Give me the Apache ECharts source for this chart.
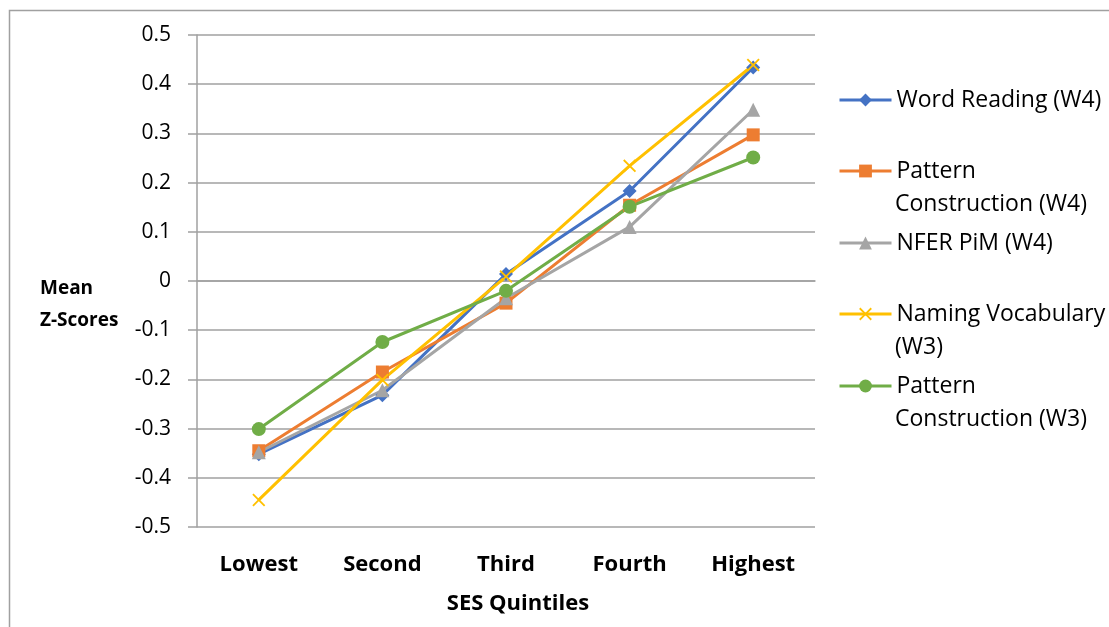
<!DOCTYPE html>
<html>
<head>
<meta charset="utf-8">
<script src="https://cdn.jsdelivr.net/npm/echarts@6/dist/echarts.min.js"></script>
<style>
  html, body { margin: 0; padding: 0; background: #fff; }
  #chart { width: 1109px; height: 627px; }
</style>
</head>
<body>
<div id="chart"></div>
<script>
// SES quintile categories
const quintiles = ['Lowest', 'Second', 'Third', 'Fourth', 'Highest'];

// Mean z-scores per quintile
const wordReadingW4 = [-0.352, -0.232, 0.014, 0.183, 0.434];
const patternConstructionW4 = [-0.345, -0.185, -0.045, 0.154, 0.297];
const nferPimW4 = [-0.348, -0.222, -0.035, 0.110, 0.348];
const namingVocabularyW3 = [-0.445, -0.201, 0.009, 0.234, 0.439];
const patternConstructionW3 = [-0.301, -0.124, -0.020, 0.151, 0.251];

// Y axis tick labels, top to bottom
const yTickLabels = ['0.5', '0.4', '0.3', '0.2', '0.1', '0', '-0.1', '-0.2', '-0.3', '-0.4', '-0.5'];

const FONT = 'Open Sans';
const crossPath = 'path://M0,1 L1,0 L5,4 L9,0 L10,1 L6,5 L10,9 L9,10 L5,6 L1,10 L0,9 L4,5 Z';

// legend text is split into lines; the first line sits beside the key
const seriesDefs = [
  { name: 'Word Reading (W4)', lines: ['Word Reading (W4)'], data: wordReadingW4, color: '#4472C4', symbol: 'diamond', size: 14 },
  { name: 'Pattern Construction (W4)', lines: ['Pattern', 'Construction (W4)'], data: patternConstructionW4, color: '#ED7D31', symbol: 'rect', size: 13 },
  { name: 'NFER PiM (W4)', lines: ['NFER PiM (W4)'], data: nferPimW4, color: '#A5A5A5', symbol: 'triangle', size: 14 },
  { name: 'Naming Vocabulary (W3)', lines: ['Naming Vocabulary', '(W3)'], data: namingVocabularyW3, color: '#FFC000', symbol: crossPath, size: 13 },
  { name: 'Pattern Construction (W3)', lines: ['Pattern', 'Construction (W3)'], data: patternConstructionW3, color: '#70AD47', symbol: 'circle', size: 14 }
];

// first-line centre of each legend entry
const legendCentres = [100, 171, 243, 314, 386];
const LEGEND_FONT = 23;
const LEGEND_LINE = 33;

function tickLabel(v) {
  const idx = Math.round((0.5 - v) * 10);
  return yTickLabels[idx] !== undefined ? yTickLabels[idx] : '';
}

const legends = seriesDefs.map((s, i) => ({
  data: [s.name],
  left: 838,
  top: legendCentres[i] - LEGEND_LINE / 2,
  padding: 0,
  itemWidth: 52,
  itemHeight: 16,
  selectedMode: false,
  formatter: () => s.lines[0],
  lineStyle: { width: 3 },
  textStyle: { fontFamily: FONT, fontSize: LEGEND_FONT, color: '#000', lineHeight: LEGEND_LINE }
}));

// continuation lines of the two-line legend entries
const legendExtra = [];
seriesDefs.forEach((s, i) => {
  s.lines.slice(1).forEach((ln, j) => {
    legendExtra.push({
      type: 'text',
      x: 895,
      y: legendCentres[i] + LEGEND_LINE * (j + 1),
      style: {
        text: ln,
        fontFamily: FONT,
        fontSize: LEGEND_FONT,
        fill: '#000',
        verticalAlign: 'middle',
        align: 'left'
      },
      silent: true
    });
  });
});

const chart = echarts.init(document.getElementById('chart'), null, { renderer: 'canvas' });
chart.setOption({
  animation: false,
  backgroundColor: '#fff',
  grid: { left: 197, right: 294, top: 35, bottom: 100, containLabel: false },
  legend: legends,
  graphic: [
    {
      type: 'rect',
      shape: { x: 9.5, y: 10.5, width: 1120, height: 640 },
      style: { fill: 'none', stroke: '#a0a0a0', lineWidth: 1.5 },
      silent: true
    },
    {
      type: 'text',
      x: 40,
      y: 305,
      style: {
        text: 'Mean\nZ-Scores',
        fontFamily: FONT,
        fontSize: 19,
        fontWeight: 'bold',
        lineHeight: 32,
        align: 'left',
        verticalAlign: 'middle',
        fill: '#000'
      },
      silent: true
    },
    {
      type: 'text',
      x: 518,
      y: 604,
      style: {
        text: 'SES Quintiles',
        fontFamily: FONT,
        fontSize: 22,
        fontWeight: 'bold',
        align: 'center',
        verticalAlign: 'middle',
        fill: '#000'
      },
      silent: true
    }
  ].concat(legendExtra),
  xAxis: {
    type: 'category',
    data: quintiles,
    boundaryGap: true,
    axisLine: { show: true, lineStyle: { color: '#a0a0a0', width: 1.5 } },
    axisTick: { show: false },
    axisLabel: {
      margin: 27,
      fontFamily: FONT,
      fontSize: 22,
      fontWeight: 'bold',
      color: '#000'
    }
  },
  yAxis: {
    type: 'value',
    min: -0.5,
    max: 0.5,
    interval: 0.1,
    axisLine: { show: true, lineStyle: { color: '#a0a0a0', width: 1.5 } },
    axisTick: { show: true, length: 9, lineStyle: { color: '#a0a0a0', width: 1.5 } },
    splitLine: { show: true, lineStyle: { color: '#a0a0a0', width: 1.5 } },
    axisLabel: {
      margin: 26,
      fontFamily: FONT,
      fontSize: 21,
      color: '#000',
      formatter: tickLabel
    }
  },
  series: seriesDefs.map(s => ({
    type: 'line',
    name: s.name,
    data: s.data,
    symbol: s.symbol,
    symbolSize: s.size,
    showSymbol: true,
    lineStyle: { color: s.color, width: 3 },
    itemStyle: { color: s.color, borderColor: s.color, borderWidth: 0, opacity: 1 },
    emphasis: { disabled: true }
  }))
});
</script>
</body>
</html>
